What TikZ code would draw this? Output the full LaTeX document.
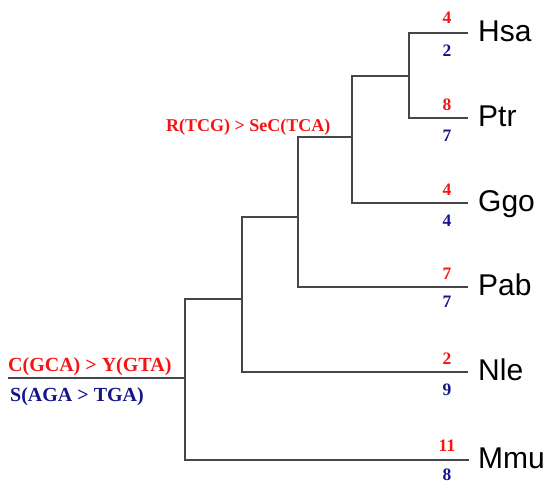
\documentclass[tikz,border=0pt]{standalone}
\usepackage{fontspec}
\setmainfont{Liberation Serif}
\newfontfamily\leaffont{Liberation Sans}
\definecolor{mred}{RGB}{245,20,20}
\definecolor{mblue}{RGB}{20,20,140}
\definecolor{branchgray}{RGB}{70,70,70}
\begin{document}
\begin{tikzpicture}[x=1pt,y=-1pt,
  branch/.style={draw=branchgray,line width=1.1pt},
  leafname/.style={anchor=base west,inner sep=0pt,font=\leaffont\fontsize{30}{30}\selectfont},
  rnum/.style={anchor=base,inner sep=0pt,text=mred,font=\bfseries\fontsize{17.5}{17.5}\selectfont},
  bnum/.style={anchor=base,inner sep=0pt,text=mblue,font=\bfseries\fontsize{17.5}{17.5}\selectfont},
  rlab/.style={anchor=base west,inner sep=0pt,text=mred,font=\bfseries\fontsize{20}{20}\selectfont},
  blab/.style={anchor=base west,inner sep=0pt,text=mblue,font=\bfseries\fontsize{20}{20}\selectfont}]
\useasboundingbox (0,0) rectangle (547,483);
% leaf ends
\coordinate (hsaE) at (468,33);
\coordinate (ptrE) at (468,118);
\coordinate (ggoE) at (468,203);
\coordinate (pabE) at (468,287);
\coordinate (nleE) at (468,372);
\coordinate (mmuE) at (469,460);
% internal nodes
\coordinate (n1) at (409,76);
\coordinate (n2) at (352,137);
\coordinate (n3) at (298,217);
\coordinate (n4) at (242,299);
\coordinate (n5) at (185,378);
\coordinate (root) at (8,378);
% branches
\draw[branch] (hsaE) -| (n1) |- (ptrE);
\draw[branch] (n1) -| (n2) |- (ggoE);
\draw[branch] (n2) -| (n3) |- (pabE);
\draw[branch] (n3) -| (n4) |- (nleE);
\draw[branch] (n4) -| (n5) |- (mmuE);
\draw[branch] (root) -- (n5);
% leaf names
\node[leafname] (hsa) at (478,41) {Hsa};
\node[leafname] (ptr) at (478,126) {Ptr};
\node[leafname] (ggo) at (478,211) {Ggo};
\node[leafname] (pab) at (478,295) {Pab};
\node[leafname] (nle) at (478,380) {Nle};
\node[leafname] (mmu) at (478,468) {Mmu};
% numbers
\node[rnum] (hsaR) at (447,23) {4};
\node[bnum] (hsaB) at (447,56) {2};
\node[rnum] (ptrR) at (447,110.5) {8};
\node[bnum] (ptrB) at (447,141.5) {7};
\node[rnum] (ggoR) at (447,195) {4};
\node[bnum] (ggoB) at (447,226) {4};
\node[rnum] (pabR) at (447,279) {7};
\node[bnum] (pabB) at (447,307) {7};
\node[rnum] (nleR) at (447,364) {2};
\node[bnum] (nleB) at (447,395) {9};
\node[rnum] (mmuR) at (447,451.5) {11};
\node[bnum] (mmuB) at (447,480) {8};
% mutation labels
\node[rlab] (rootR) at (8,371) {C(GCA) > Y(GTA)};
\node[blab] (rootB) at (10,401) {S(AGA > TGA)};
\node[rlab,font=\bfseries\fontsize{18}{18}\selectfont] (cladeR) at (166,131) {R(TCG) > SeC(TCA)};
\end{tikzpicture}
\end{document}
